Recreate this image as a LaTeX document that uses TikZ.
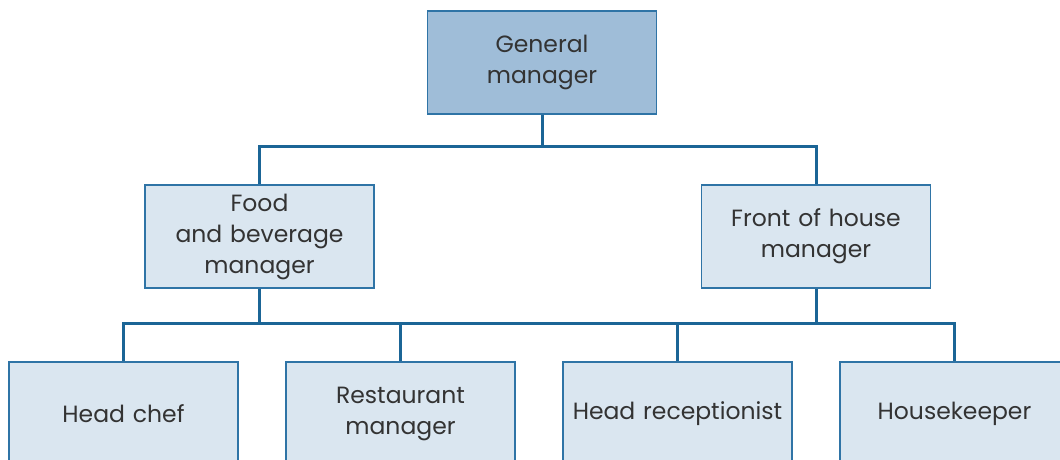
\documentclass[tikz,border=0pt]{standalone}
\usepackage{fontspec}
\setmainfont{Poppins}
\usepackage{tikz}
\usetikzlibrary{positioning}
\definecolor{gmfill}{HTML}{9FBDD8}
\definecolor{boxfill}{HTML}{DAE6F0}
\definecolor{edge}{HTML}{2F74A6}
\definecolor{wire}{HTML}{1B6596}
\definecolor{ink}{HTML}{333333}
\tikzstyle{block} = [rectangle, draw=edge, line width=1.5pt, fill=boxfill,
text width=215pt, text centered, minimum width=229pt, minimum height=103pt,
font=\fontsize{23.5}{31}\selectfont, text=ink]
\tikzstyle{line} = [draw=wire, line width=3pt]

\begin{document}
\begin{tikzpicture}[x=1pt, y=1pt]
	\useasboundingbox (0,0) rectangle (1060,-459);
	% Place nodes
	\node [block, fill=gmfill] (gm) at (542,-62.5) {General\\manager};
	\node [block] (fb) at (259.5,-236.5) {Food\\ and beverage\\manager};
	\node [block] (fh) at (816,-236.5) {Front of house\\manager};
	\node [block] (chef) at (123.5,-413.5) {Head chef};
	\node [block, right=46.5pt of chef] (rest) {Restaurant\\manager};
	\node [block, right=46.5pt of rest] (recep) {Head receptionist};
	\node [block, right=46.5pt of recep] (house) {Housekeeper};
	\coordinate (bar) at (0,-323);

	\path [line] (gm.south) -- ++(0,-32) -| (fb.north);
	\path [line] (gm.south) -- ++(0,-32) -| (fh.north);
	\path [line] (fb.south) |- (bar -| chef.north) -- (chef.north);
	\path [line] (fb.south) |- (bar -| house.north) -- (house.north);
	\path [line] (rest.north) -- (rest.north |- bar);
	\path [line] (recep.north) -- (recep.north |- bar);
	\path [line] (fh.south) -- (fh.south |- bar);
\end{tikzpicture}
\end{document}
